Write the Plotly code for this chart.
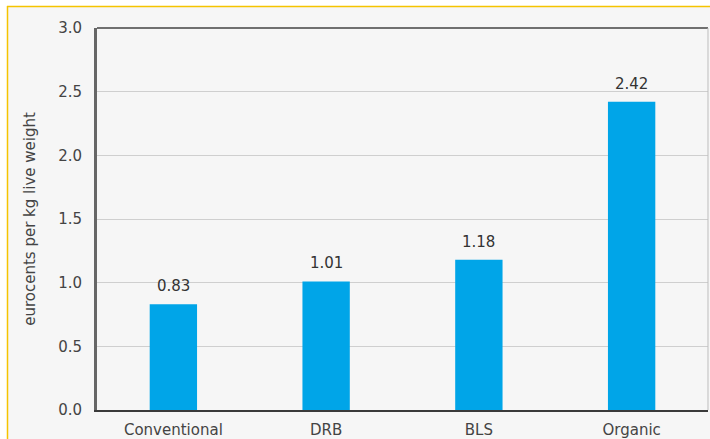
import plotly.graph_objects as go

categories = ["Conventional", "DRB", "BLS", "Organic"]
values = [0.83, 1.01, 1.18, 2.42]
y_ticks = [0.0, 0.5, 1.0, 1.5, 2.0, 2.5, 3.0]
y_title = "eurocents per kg live weight"

W, H = 710, 439
ML, MR, MT, MB = 97, 2, 28, 29
pw, ph = W - ML - MR, H - MT - MB

def px_x(x):
    return (x - ML) / pw

def px_y(y):
    return (H - MB - y) / ph

fig = go.Figure(
    go.Bar(
        x=categories,
        y=values,
        width=0.31,
        marker=dict(color="#00a5e8", line=dict(width=0)),
        cliponaxis=False,
    )
)

# value labels above each bar
for cat, v in zip(categories, values):
    fig.add_annotation(
        x=cat, y=v, text=f"{v:.2f}", showarrow=False,
        yanchor="bottom", yshift=7,
        font=dict(family="DejaVu Sans", size=15, color="#333333"),
    )

shapes = [
    # white margin outside the yellow frame
    dict(type="rect", xref="paper", yref="paper", x0=px_x(0), x1=px_x(7), y0=px_y(H), y1=px_y(0),
         fillcolor="white", line=dict(width=0), layer="below"),
    dict(type="rect", xref="paper", yref="paper", x0=px_x(0), x1=px_x(W), y0=px_y(6), y1=px_y(0),
         fillcolor="white", line=dict(width=0), layer="below"),
    # yellow frame
    dict(type="line", xref="paper", yref="paper", x0=px_x(7), x1=px_x(W), y0=px_y(6.5), y1=px_y(6.5),
         line=dict(color="#f5c400", width=1.5)),
    dict(type="line", xref="paper", yref="paper", x0=px_x(7.5), x1=px_x(7.5), y0=px_y(6), y1=px_y(H),
         line=dict(color="#f5c400", width=1.5)),
    # plot frame: top and right borders
    dict(type="line", xref="paper", yref="paper", x0=0, x1=1, y0=1, y1=1,
         line=dict(color="#707070", width=2)),
    dict(type="line", xref="paper", yref="paper", x0=1, x1=1, y0=0, y1=1,
         line=dict(color="#bdbdbd", width=1)),
]

fig.update_layout(
    width=W,
    height=H,
    margin=dict(l=ML, r=MR, t=MT, b=MB, autoexpand=False),
    paper_bgcolor="#f6f6f6",
    plot_bgcolor="#f6f6f6",
    showlegend=False,
    bargap=0.69,
    font=dict(family="DejaVu Sans", size=15, color="#444444"),
    shapes=shapes,
    xaxis=dict(
        showgrid=False,
        showline=True,
        linecolor="#3a3a3a",
        linewidth=2,
        ticks="",
        ticklabelstandoff=5,
        automargin=False,
        tickfont=dict(size=15, color="#444444"),
        fixedrange=True,
    ),
    yaxis=dict(
        range=[0, 3.0],
        tickvals=y_ticks,
        ticktext=[f"{t:.1f}" for t in y_ticks],
        showgrid=True,
        gridcolor="#cfcfcf",
        gridwidth=1,
        showline=True,
        linecolor="#666666",
        linewidth=3,
        zeroline=False,
        ticks="",
        ticklabelstandoff=9,
        automargin=False,
        tickfont=dict(size=15, color="#444444"),
        title=dict(text=y_title, font=dict(size=15, color="#444444"), standoff=19),
        fixedrange=True,
    ),
)

fig.write_html("out.html")
